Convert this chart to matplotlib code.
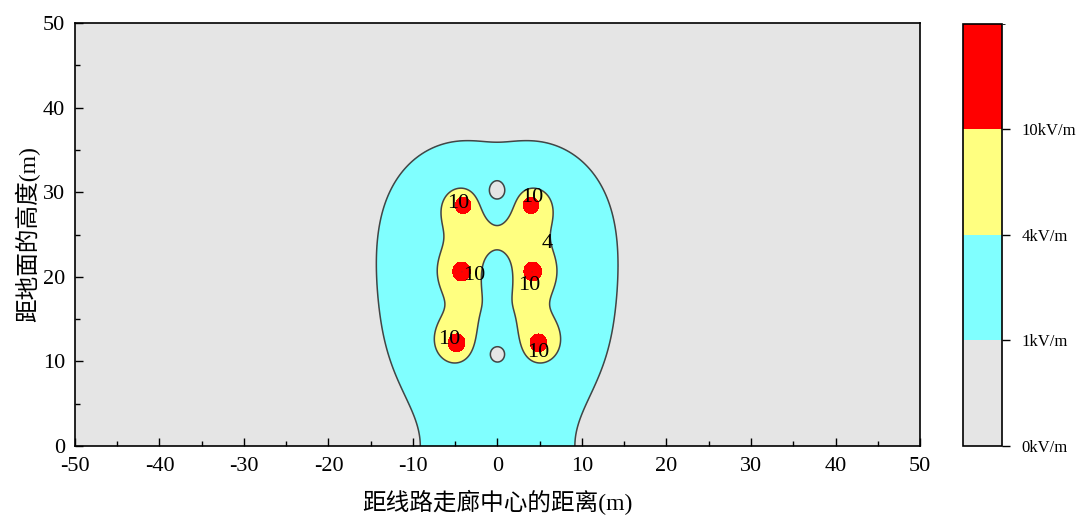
import numpy as np
import matplotlib
matplotlib.use("Agg")
import matplotlib.pyplot as plt
from matplotlib.colors import ListedColormap, BoundaryNorm

plt.rcParams['font.family'] = ['Liberation Serif', 'Noto Sans CJK SC']
plt.rcParams['axes.unicode_minus'] = False

# Double-circuit line geometry (m) and phasing (deg)
cond_x = [-4.0, -4.2, -4.8, 3.9, 4.1, 4.8]
cond_y = [28.6, 20.6, 12.1, 28.6, 20.6, 12.1]
phase_deg = [0, -120, 120, 0, -120, 120]
line_kv = 121.0
cond_radius = 0.0108

levels = [0, 1, 4, 10, 1000]
level_labels = ['0kV/m', '1kV/m', '4kV/m', '10kV/m']
colors = ['#E5E5E5', '#80FFFF', '#FFFF80', '#FF0000']

label_text = ['10', '10', '4', '10', '10', '10', '10']
label_x = [-4.6, 4.1, 5.9, -2.8, 3.7, -5.7, 4.8]
label_y = [28.7, 29.4, 23.9, 20.2, 19.0, 12.6, 11.1]

# Line charges (in volts, i.e. q / 2*pi*eps0) from Maxwell potential coefficients
cx = np.array(cond_x)
cy = np.array(cond_y)
n = len(cx)
V = line_kv * 1e3 / np.sqrt(3) * np.exp(1j * np.deg2rad(phase_deg))
M = np.zeros((n, n))
for i in range(n):
    for j in range(n):
        if i == j:
            M[i, j] = np.log(2 * cy[i] / cond_radius)
        else:
            d = np.hypot(cx[i] - cx[j], cy[i] - cy[j])
            dp = np.hypot(cx[i] - cx[j], cy[i] + cy[j])
            M[i, j] = np.log(dp / d)
lam = np.linalg.solve(M, V)

xs = np.linspace(-50, 50, 2001)
ys = np.linspace(0, 50, 1001)
X, Y = np.meshgrid(xs, ys)
Ex = np.zeros_like(X, dtype=complex)
Ey = np.zeros_like(X, dtype=complex)
for i in range(n):
    dx = X - cx[i]
    dy = Y - cy[i]
    r2 = dx**2 + dy**2
    r2 = np.maximum(r2, cond_radius**2)
    dyi = Y + cy[i]
    r2i = dx**2 + dyi**2
    Ex += lam[i] * (dx / r2 - dx / r2i)
    Ey += lam[i] * (dy / r2 - dyi / r2i)
E = np.sqrt(np.abs(Ex)**2 + np.abs(Ey)**2) / 1e3

fig = plt.figure(figsize=(10.88, 5.15), dpi=100)
ax = fig.add_axes([0.0689, 0.134, 0.7767, 0.8213])
cax = fig.add_axes([0.885, 0.134, 0.0358, 0.8194])

cmap = ListedColormap(colors)
norm = BoundaryNorm(levels, cmap.N)
cf = ax.contourf(X, Y, E, levels=levels, cmap=cmap, norm=norm)
ax.contour(X, Y, E, levels=levels[1:3], colors='#444444', linewidths=1.1)

for t, lx, ly in zip(label_text, label_x, label_y):
    ax.text(lx, ly, t, ha='center', va='center', fontsize=16,
            family='Liberation Serif')

ax.set_xlim(-50, 50)
ax.set_ylim(0, 50)
ax.set_xticks(np.arange(-50, 51, 10))
ax.set_yticks(np.arange(0, 51, 10))
ax.set_xticks(np.arange(-45, 50, 10), minor=True)
ax.set_yticks(np.arange(5, 50, 10), minor=True)
ax.tick_params(which='both', direction='in', labelsize=16, top=False, right=False)
ax.tick_params(which='major', length=6, width=1)
ax.tick_params(which='minor', length=3.5, width=1)
ax.tick_params(axis='x', pad=8)
ax.tick_params(axis='y', pad=7)
for s in ax.spines.values():
    s.set_linewidth(1.2)
ax.set_xlabel('距线路走廊中心的距离(m)', fontsize=17, labelpad=10)
ax.set_ylabel('距地面的高度(m)', fontsize=17, labelpad=2)

cb = fig.colorbar(cf, cax=cax, spacing='uniform', ticks=levels[:4])
cb.ax.set_yticklabels(level_labels, fontsize=12)
cb.ax.tick_params(length=6, width=1, pad=8)
cb.outline.set_linewidth(1.2)

fig.savefig('out.png', dpi=100)
